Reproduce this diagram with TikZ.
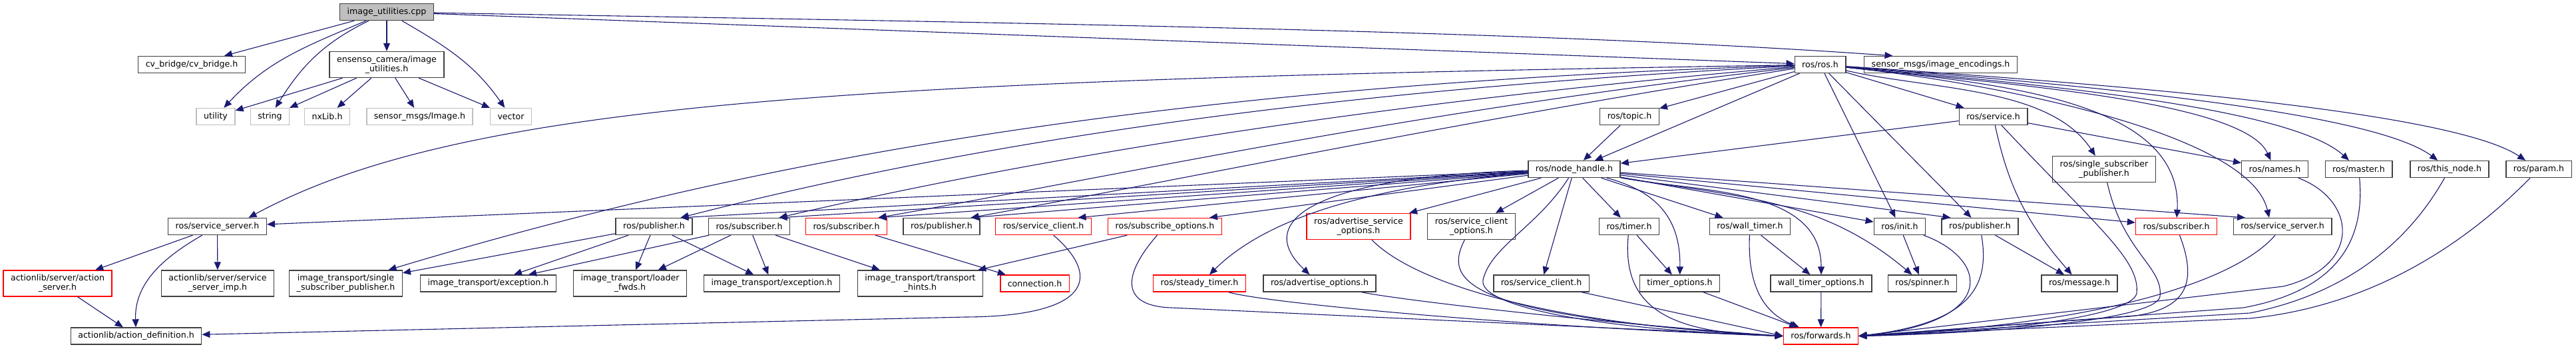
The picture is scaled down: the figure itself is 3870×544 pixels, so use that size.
\documentclass[tikz,border=0pt]{standalone}
\usepackage{fontspec}
\setmainfont{DejaVu Sans}
\usetikzlibrary{arrows.meta,positioning}
\definecolor{edgeblue}{HTML}{191970}
\definecolor{nodeborder}{HTML}{404040}
\definecolor{missgray}{HTML}{BFBFBF}
\definecolor{truncred}{HTML}{FF0000}
\begin{document}
\begin{tikzpicture}[x=1pt, y=1pt, every node/.style={font=\fontsize{12.6}{14}\selectfont}, box/.style={draw=nodeborder, line width=1.4pt, inner xsep=11pt, inner ysep=0pt, minimum height=25pt, align=center}, twoline/.style={minimum height=39pt}, missbox/.style={box, draw=missgray}, truncbox/.style={box, draw=truncred}, rootbox/.style={box, fill=missgray}, dep/.style={->, draw=edgeblue, line width=1.1pt}, >={Stealth[inset=0pt, length=12pt, width=10pt]}]
\useasboundingbox (0,0) rectangle (3870,-544);
\node[rootbox] (cpp) at (581,-18) {image\_utilities.cpp};
\node[box] (cvb) at (288,-97) {cv\_bridge/cv\_bridge.h};
\node[box, twoline] (ens) at (581,-97) {ensenso\_camera/image\\\_utilities.h};
\node[box] (ros) at (2734.5,-97) {ros/ros.h};
\node[box] (enc) at (2915.5,-97) {sensor\_msgs/image\_encodings.h};
\node[missbox] (util) at (324,-175) {utility};
\node[missbox] (str) at (405.5,-175) {string};
\node[missbox] (nxlib) at (491.5,-175) {nxLib.h};
\node[missbox] (img) at (630.5,-175) {sensor\_msgs/Image.h};
\node[missbox] (vec) at (767.5,-175) {vector};
\node[box] (topic) at (2448,-175) {ros/topic.h};
\node[box] (srv) at (2994.5,-175) {ros/service.h};
\node[box] (nh) at (2365,-254) {ros/node\_handle.h};
\node[box, twoline] (ssp) at (3161,-254) {ros/single\_subscriber\\\_publisher.h};
\node[box] (names) at (3417.5,-254) {ros/names.h};
\node[box] (master) at (3543.5,-254) {ros/master.h};
\node[box] (thisnode) at (3680,-254) {ros/this\_node.h};
\node[box] (param) at (3814,-254) {ros/param.h};
\node[box] (ssrvL) at (326.5,-340) {ros/service\_server.h};
\node[box] (pub1) at (982.5,-340) {ros/publisher.h};
\node[box] (sub1) at (1125.5,-340) {ros/subscriber.h};
\node[truncbox] (sub2) at (1271.5,-340) {ros/subscriber.h};
\node[box] (pub2) at (1414.5,-340) {ros/publisher.h};
\node[truncbox] (sclR) at (1567.5,-340) {ros/service\_client.h};
\node[truncbox] (subopt) at (1750,-340) {ros/subscribe\_options.h};
\node[truncbox, twoline] (advsrv) at (2041,-340) {ros/advertise\_service\\\_options.h};
\node[box, twoline] (sclopt) at (2210.5,-340) {ros/service\_client\\\_options.h};
\node[box] (timer) at (2447.5,-340) {ros/timer.h};
\node[box] (wtimer) at (2629,-340) {ros/wall\_timer.h};
\node[box] (init) at (2854,-340) {ros/init.h};
\node[box] (pub3) at (2974.5,-340) {ros/publisher.h};
\node[truncbox] (sub3) at (3269.5,-340) {ros/subscriber.h};
\node[box] (ssrvR) at (3429,-340) {ros/service\_server.h};
\node[truncbox, twoline] (actsrv) at (86.5,-425.5) {actionlib/server/action\\\_server.h};
\node[box, twoline] (srvimp) at (327,-425.5) {actionlib/server/service\\\_server\_imp.h};
\node[box, twoline] (itssp) at (519.5,-425.5) {image\_transport/single\\\_subscriber\_publisher.h};
\node[box] (itexc1) at (733.5,-425.5) {image\_transport/exception.h};
\node[box, twoline] (itldr) at (946.5,-425.5) {image\_transport/loader\\\_fwds.h};
\node[box] (itexc2) at (1159.5,-425.5) {image\_transport/exception.h};
\node[box, twoline] (ithint) at (1382.5,-425.5) {image\_transport/transport\\\_hints.h};
\node[truncbox] (conn) at (1554.5,-425.5) {connection.h};
\node[truncbox] (steady) at (1802,-425.5) {ros/steady\_timer.h};
\node[box] (advopt) at (1982.5,-425.5) {ros/advertise\_options.h};
\node[box] (scl) at (2315.5,-425.5) {ros/service\_client.h};
\node[box] (topt) at (2523.5,-425.5) {timer\_options.h};
\node[box] (wtopt) at (2736,-425.5) {wall\_timer\_options.h};
\node[box] (spin) at (2888,-425.5) {ros/spinner.h};
\node[box] (msg) at (3124,-425.5) {ros/message.h};
\node[box] (actdef) at (204.5,-504.5) {actionlib/action\_definition.h};
\node[truncbox] (fwd) at (2735.5,-504.5) {ros/forwards.h};
\coordinate (encin) at ([xshift=-72pt]enc.north);
\coordinate (ssrvLin) at ([xshift=47pt]ssrvL.north);
\coordinate (itsspin) at ([xshift=64pt]itssp.north);
\coordinate (pub1in) at ([xshift=40pt]pub1.north);
\coordinate (sub1in) at ([xshift=45pt]sub1.north);
\coordinate (sub2in) at ([xshift=48pt]sub2.north);
\coordinate (pub2in) at ([xshift=44pt]pub2.north);
\coordinate (sclRin) at ([xshift=52pt]sclR.north);
\coordinate (suboptin) at ([xshift=67pt]subopt.north);
\coordinate (steadyin) at ([xshift=15pt]steady.north);
\coordinate (advoptin) at ([xshift=-15pt]advopt.north);
\coordinate (pub3in) at ([xshift=-44pt]pub3.north);
\coordinate (ssrvRa) at ([xshift=-56pt]ssrvR.north);
\coordinate (ssrvRb) at ([xshift=-20pt]ssrvR.north);
\draw[dep] (cpp) -- (cvb);
\draw[dep] (cpp) to[out=203,in=47] (util);
\draw[dep] (cpp) to[out=206,in=58] (str);
\draw[dep] (cpp) -- (ens);
\draw[dep] (cpp) to[out=330,in=125] (vec);
\draw[dep] (cpp) -- (ros);
\draw[dep] (cpp) .. controls (1500,-34) and (2300,-45) .. (encin);
\draw[dep] (ens) -- (util);
\draw[dep] (ens) -- (str);
\draw[dep] (ens) -- (nxlib);
\draw[dep] (ens) -- (img);
\draw[dep] (ens) -- (vec);
\draw[dep] (ros) -- (topic);
\draw[dep] (ros) -- (nh);
\draw[dep] (ros) -- (srv);
\draw[dep] (ros) .. controls (1300,-120) and (700,-150) .. (ssrvLin);
\draw[dep] (ros) .. controls (1700,-130) and (1100,-250) .. (itsspin);
\draw[dep] (ros) .. controls (1900,-140) and (1400,-230) .. (pub1in);
\draw[dep] (ros) .. controls (2000,-160) and (1500,-250) .. (sub1in);
\draw[dep] (ros) .. controls (2100,-170) and (1700,-260) .. (sub2in);
\draw[dep] (ros) .. controls (2200,-180) and (1800,-265) .. (pub2in);
\draw[dep] (ros) -- (init);
\draw[dep] (ros) -- (pub3);
\draw[dep] (ros) .. controls (2900,-135) and (3080,-130) .. (ssp);
\draw[dep] (ros) .. controls (3000,-125) and (3280,-150) .. (sub3);
\draw[dep] (ros) .. controls (3000,-125) and (3370,-150) .. (names);
\draw[dep] (ros) .. controls (3000,-125) and (3380,-200) .. (ssrvRb);
\draw[dep] (ros) .. controls (3050,-125) and (3440,-160) .. (master);
\draw[dep] (ros) .. controls (3100,-125) and (3560,-165) .. (thisnode);
\draw[dep] (ros) .. controls (3150,-125) and (3680,-165) .. (param);
\draw[dep] (topic) -- (nh);
\draw[dep] (srv) -- (nh);
\draw[dep] (srv) -- (names);
\draw[dep] (srv) to[out=-78,in=131] (msg);
\draw[dep] (srv) .. controls (3150,-340) and (3215,-390) .. (3210,-440) .. controls (3205,-475) and (3000,-500) .. (fwd.east);
\draw[dep] (nh) -- (ssrvL);
\draw[dep] (nh) -- (pub1in);
\draw[dep] (nh) -- (sub1in);
\draw[dep] (nh) -- (sub2in);
\draw[dep] (nh) -- (pub2in);
\draw[dep] (nh) -- (sclRin);
\draw[dep] (nh) -- (suboptin);
\draw[dep] (nh) .. controls (2050,-280) and (1900,-330) .. (steadyin);
\draw[dep] (nh) .. controls (1980,-265) and (1880,-330) .. (advoptin);
\draw[dep] (nh) -- (advsrv);
\draw[dep] (nh) -- (sclopt);
\draw[dep] (nh) -- (scl);
\draw[dep] (nh) .. controls (2310,-340) and (2240,-370) .. (2228,-420) .. controls (2220,-460) and (2400,-495) .. (fwd.west);
\draw[dep] (nh) -- (timer);
\draw[dep] (nh) .. controls (2480,-285) and (2525,-320) .. (topt);
\draw[dep] (nh) -- (wtimer);
\draw[dep] (nh) .. controls (2554,-289) and (2736,-281) .. (wtopt);
\draw[dep] (nh) -- (init);
\draw[dep] (nh) .. controls (2612,-297) and (2734,-296) .. (spin);
\draw[dep] (nh) -- (pub3in);
\draw[dep] (nh) -- (sub3);
\draw[dep] (nh) -- (ssrvRa);
\draw[dep] (ssrvL) -- (actsrv);
\draw[dep] (ssrvL) -- (srvimp);
\draw[dep] (ssrvL) to[out=210,in=92] (actdef);
\draw[dep] (actsrv) -- (actdef);
\draw[dep] (pub1) -- (itssp);
\draw[dep] (pub1) -- (itexc1);
\draw[dep] (pub1) -- (itldr);
\draw[dep] (pub1) -- (itexc2);
\draw[dep] (sub1) -- (itexc1);
\draw[dep] (sub1) -- (itldr);
\draw[dep] (sub1) -- (itexc2);
\draw[dep] (sub1) -- (ithint);
\draw[dep] (sub2) -- (conn);
\draw[dep] (sclR) .. controls (1660,-420) and (1630,-475) .. (1450,-476) -- (actdef);
\draw[dep] (subopt) -- (ithint);
\draw[dep] (subopt) .. controls (1680,-420) and (1690,-460) .. (1760,-462) -- (fwd.west);
\draw[dep] (advsrv) .. controls (2120,-420) and (2300,-485) .. (fwd.west);
\draw[dep] (sclopt) .. controls (2170,-420) and (2190,-475) .. (fwd.west);
\draw[dep] (scl) -- (fwd.west);
\draw[dep] (advopt) .. controls (2100,-450) and (2400,-485) .. (fwd.west);
\draw[dep] (steady) .. controls (1900,-455) and (2300,-492) .. (fwd.west);
\draw[dep] (timer) -- (topt);
\draw[dep] (timer) .. controls (2435,-470) and (2520,-500) .. (fwd.west);
\draw[dep] (wtimer) -- (wtopt);
\draw[dep] (wtimer) .. controls (2625,-430) and (2650,-470) .. (fwd);
\draw[dep] (topt) -- (fwd);
\draw[dep] (wtopt) -- (fwd);
\draw[dep] (init) -- (spin);
\draw[dep] (init) .. controls (2990,-390) and (3000,-485) .. (fwd.east);
\draw[dep] (pub3) -- (msg);
\draw[dep] (pub3) .. controls (2990,-430) and (2960,-485) .. (fwd.east);
\draw[dep] (ssp) .. controls (3190,-380) and (3250,-400) .. (3245,-445) .. controls (3240,-480) and (3000,-500) .. (fwd.east);
\draw[dep] (sub3) .. controls (3300,-420) and (3290,-465) .. (3200,-475) -- (fwd.east);
\draw[dep] (ssrvR) .. controls (3370,-410) and (3200,-485) .. (fwd.east);
\draw[dep] (names) .. controls (3540,-300) and (3550,-400) .. (3430,-430) -- (fwd.east);
\draw[dep] (master) .. controls (3555,-380) and (3490,-440) .. (3370,-462) -- (fwd.east);
\draw[dep] (thisnode) .. controls (3620,-360) and (3530,-440) .. (3380,-470) -- (fwd.east);
\draw[dep] (param) .. controls (3700,-370) and (3560,-460) .. (3380,-478) -- (fwd.east);
\end{tikzpicture}
\end{document}
